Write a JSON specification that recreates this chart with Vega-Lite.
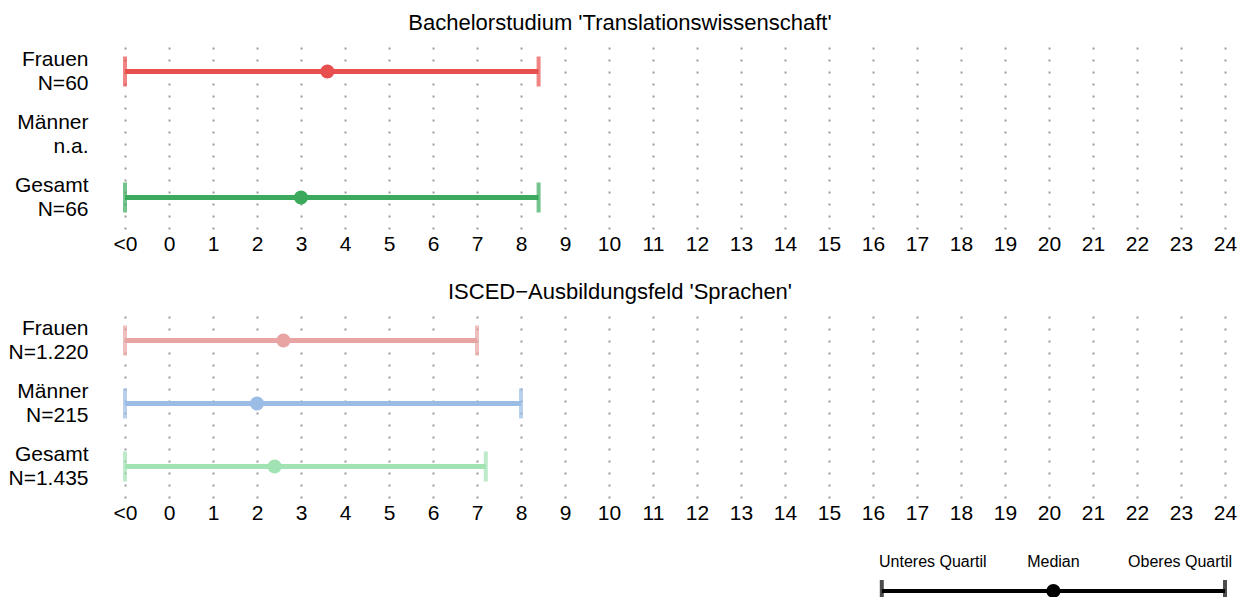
{
  "$schema": "https://vega.github.io/schema/vega-lite/v6.json",
  "padding": {"left": 5, "top": 12, "right": 5, "bottom": 0},
  "background": "white",
  "config": {
    "font": "Liberation Sans",
    "view": {"stroke": null}
  },
  "datasets": {
    "ranges": [
      {"panel": "TW", "key": "TW-Frauen", "row": "Frauen|N=60", "lower": -1, "median": 3.6, "upper": 8.4},
      {"panel": "TW", "key": "TW-Gesamt", "row": "Gesamt|N=66", "lower": -1, "median": 3.0, "upper": 8.4},
      {"panel": "SP", "key": "SP-Frauen", "row": "Frauen|N=1.220", "lower": -1, "median": 2.6, "upper": 7.0},
      {"panel": "SP", "key": "SP-Männer", "row": "Männer|N=215", "lower": -1, "median": 2.0, "upper": 8.0},
      {"panel": "SP", "key": "SP-Gesamt", "row": "Gesamt|N=1.435", "lower": -1, "median": 2.4, "upper": 7.2}
    ],
    "legendLine": [
      {"lower": 16.2, "median": 20.1, "upper": 24.0}
    ],
    "legendText": [
      {"label": "Unteres Quartil", "x": 17.36, "y": 0.69},
      {"label": "Median", "x": 20.1, "y": 0.69},
      {"label": "Oberes Quartil", "x": 22.98, "y": 0.69}
    ]
  },
  "spacing": 26,
  "vconcat": [
    {
      "spacing": 27,
      "vconcat": [
        {
          "title": {"text": "Bachelorstudium 'Translationswissenschaft'", "fontSize": 22, "fontWeight": "normal", "color": "black", "anchor": "middle", "frame": "group", "dx": -55, "offset": 5},
          "width": 1100,
          "height": 189,
          "data": {"name": "ranges"},
          "transform": [{"filter": "datum.panel === 'TW'"}],
          "encoding": {
            "y": {
              "field": "row", "type": "nominal",
              "scale": {"domain": ["Frauen|N=60", "Männer|n.a.", "Gesamt|N=66"], "paddingInner": 0, "paddingOuter": 0},
              "axis": {"title": null, "domain": false, "ticks": false, "grid": false, "labelExpr": "split(datum.label, '|')", "labelFontSize": 21, "labelLineHeight": 24, "labelOffset": -12, "labelPadding": 37, "labelColor": "black", "labelAlign": "right", "minExtent": 120, "maxExtent": 120}
            },
            "color": {
              "field": "key", "type": "nominal", "legend": null,
              "scale": {"domain": ["TW-Frauen", "TW-Gesamt", "SP-Frauen", "SP-Männer", "SP-Gesamt"], "range": ["#E8504F", "#3BAA5C", "#E8A3A3", "#9BBCE4", "#A1E3B2"]}
            }
          },
          "layer": [
            {
              "mark": {"type": "rule", "strokeWidth": 5},
              "encoding": {
                "x": {
                  "field": "lower", "type": "quantitative",
                  "scale": {"domain": [-1, 24], "nice": false, "zero": false},
                  "axis": {"title": null, "values": [-1,0,1,2,3,4,5,6,7,8,9,10,11,12,13,14,15,16,17,18,19,20,21,22,23,24], "labelExpr": "datum.value == -1 ? '<0' : datum.label", "domain": false, "ticks": false, "grid": true, "gridDash": [2, 10], "gridColor": "#9a9a9a", "gridWidth": 2, "labelFontSize": 21, "labelColor": "black", "labelPadding": 4, "labelFlush": false, "labelOverlap": false}
                },
                "x2": {"field": "upper"}
              }
            },
            {
              "mark": {"type": "tick", "orient": "vertical", "size": 30, "thickness": 4},
              "encoding": {"x": {"field": "lower", "type": "quantitative"}}
            },
            {
              "mark": {"type": "tick", "orient": "vertical", "size": 30, "thickness": 4},
              "encoding": {"x": {"field": "upper", "type": "quantitative"}}
            },
            {
              "mark": {"type": "point", "filled": true, "opacity": 1, "size": 200},
              "encoding": {"x": {"field": "median", "type": "quantitative"}}
            }
          ]
        },
        {
          "title": {"text": "ISCED−Ausbildungsfeld 'Sprachen'", "fontSize": 22, "fontWeight": "normal", "color": "black", "anchor": "middle", "frame": "group", "dx": -55, "offset": 5},
          "width": 1100,
          "height": 189,
          "data": {"name": "ranges"},
          "transform": [{"filter": "datum.panel === 'SP'"}],
          "encoding": {
            "y": {
              "field": "row", "type": "nominal",
              "scale": {"domain": ["Frauen|N=1.220", "Männer|N=215", "Gesamt|N=1.435"], "paddingInner": 0, "paddingOuter": 0},
              "axis": {"title": null, "domain": false, "ticks": false, "grid": false, "labelExpr": "split(datum.label, '|')", "labelFontSize": 21, "labelLineHeight": 24, "labelOffset": -12, "labelPadding": 37, "labelColor": "black", "labelAlign": "right", "minExtent": 120, "maxExtent": 120}
            },
            "color": {
              "field": "key", "type": "nominal", "legend": null,
              "scale": {"domain": ["TW-Frauen", "TW-Gesamt", "SP-Frauen", "SP-Männer", "SP-Gesamt"], "range": ["#E8504F", "#3BAA5C", "#E8A3A3", "#9BBCE4", "#A1E3B2"]}
            }
          },
          "layer": [
            {
              "mark": {"type": "rule", "strokeWidth": 5},
              "encoding": {
                "x": {
                  "field": "lower", "type": "quantitative",
                  "scale": {"domain": [-1, 24], "nice": false, "zero": false},
                  "axis": {"title": null, "values": [-1,0,1,2,3,4,5,6,7,8,9,10,11,12,13,14,15,16,17,18,19,20,21,22,23,24], "labelExpr": "datum.value == -1 ? '<0' : datum.label", "domain": false, "ticks": false, "grid": true, "gridDash": [2, 10], "gridColor": "#9a9a9a", "gridWidth": 2, "labelFontSize": 21, "labelColor": "black", "labelPadding": 4, "labelFlush": false, "labelOverlap": false}
                },
                "x2": {"field": "upper"}
              }
            },
            {
              "mark": {"type": "tick", "orient": "vertical", "size": 30, "thickness": 4},
              "encoding": {"x": {"field": "lower", "type": "quantitative"}}
            },
            {
              "mark": {"type": "tick", "orient": "vertical", "size": 30, "thickness": 4},
              "encoding": {"x": {"field": "upper", "type": "quantitative"}}
            },
            {
              "mark": {"type": "point", "filled": true, "opacity": 1, "size": 200},
              "encoding": {"x": {"field": "median", "type": "quantitative"}}
            }
          ]
        }
      ]
    },
    {
      "width": 1100,
      "height": 42,
      "layer": [
        {
          "data": {"name": "legendLine"},
          "mark": {"type": "rule", "strokeWidth": 4, "color": "black"},
          "encoding": {
            "x": {"field": "lower", "type": "quantitative", "scale": {"domain": [-1, 24], "nice": false, "zero": false}, "axis": null},
            "x2": {"field": "upper"},
            "y": {"datum": 0, "type": "quantitative", "scale": {"domain": [0, 1], "nice": false}, "axis": null}
          }
        },
        {
          "data": {"name": "legendLine"},
          "mark": {"type": "tick", "orient": "vertical", "size": 22, "thickness": 4, "color": "black"},
          "encoding": {
            "x": {"field": "lower", "type": "quantitative"},
            "y": {"datum": 0, "type": "quantitative"}
          }
        },
        {
          "data": {"name": "legendLine"},
          "mark": {"type": "tick", "orient": "vertical", "size": 22, "thickness": 4, "color": "black"},
          "encoding": {
            "x": {"field": "upper", "type": "quantitative"},
            "y": {"datum": 0, "type": "quantitative"}
          }
        },
        {
          "data": {"name": "legendLine"},
          "mark": {"type": "point", "filled": true, "opacity": 1, "size": 200, "color": "black"},
          "encoding": {
            "x": {"field": "median", "type": "quantitative"},
            "y": {"datum": 0, "type": "quantitative"}
          }
        },
        {
          "data": {"name": "legendText"},
          "mark": {"type": "text", "fontSize": 16, "color": "black", "baseline": "middle", "align": "center"},
          "encoding": {
            "x": {"field": "x", "type": "quantitative"},
            "y": {"field": "y", "type": "quantitative"},
            "text": {"field": "label"}
          }
        }
      ]
    }
  ]
}
